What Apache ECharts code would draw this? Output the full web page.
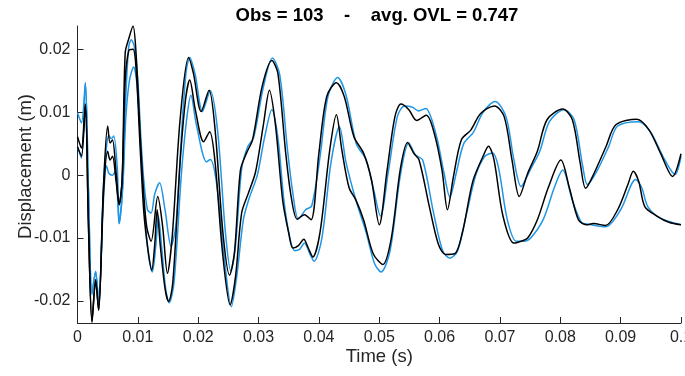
<!DOCTYPE html>
<html>
<head>
<meta charset="utf-8">
<script src="https://cdn.jsdelivr.net/npm/echarts@6/dist/echarts.min.js"></script>
<style>
html,body{margin:0;padding:0;background:#fff;}
#chart{width:685px;height:376px;}
</style>
</head>
<body>
<div id="chart"></div>
<script>
// Time ticks and displacement ticks
var xTicks = [0, 0.01, 0.02, 0.03, 0.04, 0.05, 0.06, 0.07, 0.08, 0.09, 0.1];
var yTicks = [-0.02, -0.01, 0, 0.01, 0.02];

// Upper envelope, black [time (s), displacement (m)]
var upperBlack = [
[0,0.0061],[0.00065,0.0043],[0.0013,0.0113],[0.0018,-0.0071],[0.0024,-0.0232],[0.003,-0.0166],[0.0035,-0.0214],
[0.0043,-0.0018],[0.005,0.0078],[0.0054,0.0051],[0.0058,0.0056],[0.0064,0.0003],[0.0069,-0.0047],[0.0074,-0.0007],
[0.0079,0.0194],[0.0085,0.0217],[0.0092,0.0237],[0.0097,0.0194],[0.0104,0.0061],[0.011,-0.0034],[0.0115,-0.0084],
[0.0122,-0.0105],[0.0133,-0.0034],[0.0141,-0.0081],[0.0149,-0.0156],[0.0157,-0.0097],[0.017,0.0088],[0.0184,0.0187],
[0.0192,0.0162],[0.0205,0.0101],[0.0218,0.0135],[0.0228,0.0072],[0.0241,-0.0092],[0.0252,-0.0159],[0.026,-0.0124],
[0.027,0.0008],[0.028,0.0035],[0.029,0.0056],[0.0306,0.0141],[0.0322,0.0182],[0.0332,0.0162],[0.0345,0.0035],
[0.0354,-0.0034],[0.0364,-0.007],[0.0376,-0.0063],[0.0387,-0.0071],[0.04,0.0035],[0.0413,0.0125],[0.0429,0.0147],
[0.0442,0.0125],[0.0458,0.0061],[0.0474,0.0035],[0.0487,-0.0007],[0.05,-0.0079],[0.0513,0.0008],[0.0526,0.0093],
[0.0536,0.0113],[0.0549,0.0104],[0.0562,0.0087],[0.0578,0.0095],[0.0591,0.0067],[0.0604,0.0008],[0.0613,-0.0055],
[0.0623,-0.0002],[0.0636,0.0056],[0.0652,0.0072],[0.0668,0.0098],[0.0691,0.011],[0.0707,0.0093],[0.072,0.0024],
[0.0732,-0.0034],[0.0746,0.0003],[0.0762,0.0038],[0.0778,0.0088],[0.0804,0.0105],[0.082,0.0088],[0.0833,0.0019],
[0.0842,-0.0021],[0.0856,0.0003],[0.0876,0.0046],[0.0892,0.008],[0.0927,0.0089],[0.0947,0.0072],[0.0966,0.0035],
[0.0986,-0.0002],[0.1,0.0034]
];

// Upper envelope, blue
var upperBlue = [
[0,0.0099],[0.00065,0.0083],[0.0013,0.0147],[0.0018,-0.002],[0.0024,-0.0187],[0.003,-0.0153],[0.0035,-0.0203],
[0.0043,-0.002],[0.0048,0.0045],[0.0052,0.0063],[0.0056,0.0058],[0.006,0.0062],[0.0066,0.001],[0.0069,-0.0077],
[0.0074,-0.003],[0.008,0.0125],[0.0085,0.0205],[0.0089,0.0215],[0.0094,0.0205],[0.01,0.015],[0.0105,0.006],
[0.011,-0.001],[0.0116,-0.0055],[0.0122,-0.006],[0.0128,-0.003],[0.0136,-0.0012],[0.0145,-0.0055],[0.0155,-0.0113],
[0.0163,-0.008],[0.0172,0.006],[0.018,0.0165],[0.0186,0.0187],[0.0195,0.016],[0.0207,0.0101],[0.022,0.0134],
[0.0232,0.0072],[0.0245,-0.009],[0.0254,-0.0152],[0.0262,-0.011],[0.0272,0.001],[0.0282,0.0045],[0.0292,0.006],
[0.0308,0.014],[0.0323,0.0186],[0.0335,0.016],[0.0348,0.004],[0.0357,-0.003],[0.0366,-0.007],[0.0378,-0.0055],
[0.0388,-0.0049],[0.0402,0.003],[0.0415,0.0125],[0.0431,0.0155],[0.0445,0.0127],[0.0462,0.005],[0.0478,0.0025],
[0.049,-0.002],[0.0502,-0.0065],[0.0515,0.0005],[0.053,0.0093],[0.0542,0.011],[0.0555,0.0108],[0.0565,0.0102],
[0.0577,0.0106],[0.0594,0.0065],[0.0607,0.0005],[0.0617,-0.0035],[0.0628,0.0005],[0.064,0.005],[0.0656,0.0068],
[0.0672,0.01],[0.0692,0.0117],[0.071,0.0093],[0.0723,0.0025],[0.0735,-0.0018],[0.075,0.0008],[0.0766,0.0038],
[0.0782,0.0085],[0.0806,0.0104],[0.0823,0.0088],[0.0837,0.0015],[0.0845,-0.0015],[0.086,0.0005],[0.088,0.0045],
[0.0895,0.0078],[0.093,0.0085],[0.095,0.0068],[0.097,0.003],[0.099,0.0001],[0.1,0.003]
];

// Lower envelope, black
var lowerBlack = [
[0,0.0045],[0.00065,0.003],[0.0013,0.011],[0.0018,-0.0075],[0.0024,-0.0234],[0.003,-0.0168],[0.0035,-0.0215],
[0.0043,-0.003],[0.005,0.0038],[0.0054,0.0024],[0.0058,0.003],[0.0064,-0.001],[0.0069,-0.0047],[0.0074,-0.0007],
[0.0079,0.015],[0.0085,0.0198],[0.0092,0.02],[0.0097,0.017],[0.0104,0.004],[0.011,-0.006],[0.0117,-0.012],
[0.0123,-0.0151],[0.0128,-0.011],[0.0132,-0.0055],[0.0137,-0.011],[0.0145,-0.018],[0.0151,-0.0201],[0.0158,-0.017],
[0.017,0.002],[0.0179,0.012],[0.0186,0.0151],[0.0195,0.0105],[0.0209,0.0053],[0.0219,0.0069],[0.0228,0.002],
[0.024,-0.012],[0.0253,-0.0206],[0.0262,-0.016],[0.0272,-0.006],[0.0283,-0.0029],[0.0295,0.0005],[0.0308,0.008],
[0.0318,0.0135],[0.0328,0.008],[0.034,-0.004],[0.035,-0.0092],[0.0357,-0.0116],[0.0366,-0.0112],[0.0375,-0.0102],
[0.0382,-0.0115],[0.039,-0.013],[0.0402,-0.009],[0.0418,0.004],[0.0429,0.0096],[0.0438,0.004],[0.045,-0.002],
[0.0461,-0.0039],[0.0474,-0.0071],[0.049,-0.0125],[0.0506,-0.0142],[0.052,-0.01],[0.0535,0.001],[0.0547,0.0052],
[0.0557,0.0035],[0.0566,0.0024],[0.0583,-0.005],[0.0598,-0.011],[0.061,-0.0126],[0.0625,-0.0125],[0.0638,-0.009],
[0.0655,-0.001],[0.0672,0.003],[0.0681,0.0046],[0.069,0.0025],[0.0705,-0.0065],[0.0723,-0.0108],[0.0735,-0.0105],
[0.0746,-0.01],[0.0762,-0.0071],[0.078,-0.002],[0.0801,0.0024],[0.0815,-0.002],[0.083,-0.0071],[0.0843,-0.0079],
[0.0855,-0.0077],[0.0875,-0.008],[0.0895,-0.0055],[0.0912,-0.0015],[0.0921,0.0006],[0.093,-0.001],[0.094,-0.005],
[0.096,-0.0065],[0.098,-0.0075],[0.1,-0.0079]
];

// Lower envelope, blue
var lowerBlue = [
[0,0.0045],[0.00065,0.0027],[0.0013,0.0147],[0.0018,-0.002],[0.0024,-0.019],[0.003,-0.0153],[0.0035,-0.0203],
[0.0043,-0.004],[0.0048,0.0015],[0.0052,0.0003],[0.0058,0.0],[0.0062,0.0005],[0.0066,-0.003],[0.0069,-0.0077],
[0.0075,-0.002],[0.008,0.009],[0.0086,0.015],[0.0093,0.0172],[0.0099,0.014],[0.0105,0.004],[0.0112,-0.007],
[0.0118,-0.013],[0.0124,-0.0154],[0.013,-0.011],[0.0134,-0.0065],[0.0139,-0.011],[0.0146,-0.018],[0.0152,-0.0203],
[0.016,-0.017],[0.0172,0.0],[0.0181,0.009],[0.0188,0.0127],[0.0197,0.008],[0.0214,0.0021],[0.022,0.0025],
[0.023,-0.001],[0.0242,-0.012],[0.0255,-0.0209],[0.0264,-0.016],[0.0275,-0.007],[0.0285,-0.0035],[0.0298,0.0],
[0.031,0.006],[0.0322,0.0104],[0.0332,0.006],[0.0342,-0.004],[0.0352,-0.01],[0.036,-0.012],[0.0368,-0.0118],
[0.0376,-0.0108],[0.0385,-0.0125],[0.0392,-0.0137],[0.0405,-0.01],[0.042,0.002],[0.0434,0.0077],[0.0445,0.002],
[0.0462,-0.0042],[0.0478,-0.009],[0.0492,-0.014],[0.0503,-0.0154],[0.0518,-0.012],[0.0535,0.0],[0.0549,0.0051],
[0.056,0.0032],[0.0572,0.0024],[0.059,-0.006],[0.0605,-0.012],[0.0617,-0.0132],[0.063,-0.012],[0.0645,-0.006],
[0.066,0.0],[0.0675,0.003],[0.0688,0.0035],[0.0698,0.001],[0.0712,-0.007],[0.0727,-0.0105],[0.074,-0.0105],
[0.0751,-0.01],[0.0772,-0.007],[0.079,-0.002],[0.0804,0.0008],[0.082,-0.004],[0.0835,-0.0075],[0.0847,-0.0078],
[0.0875,-0.0082],[0.09,-0.0055],[0.0925,-0.0007],[0.0935,-0.002],[0.0945,-0.005],[0.0965,-0.0068],[0.1,-0.0079]
];

var titleText = 'Obs = 103    -    avg. OVL = 0.747';
var xName = 'Time (s)';
var yName = 'Displacement (m)';

var BLUE = '#1f96e6';
var BLACK = '#000000';
var AX = '#262626';
var FONT = 'Liberation Sans, Arial, Helvetica, sans-serif';

var chart = echarts.init(document.getElementById('chart'), null, {renderer: 'canvas'});

function mk(data, color, z) {
  return {
    type: 'line', data: data, showSymbol: false, symbol: 'none',
    smooth: 0.3, z: z, clip: true,
    lineStyle: {color: color, width: 1.5},
    emphasis: {disabled: true}, silent: true
  };
}

chart.setOption({
  animation: false,
  backgroundColor: '#ffffff',
  title: {
    text: titleText, left: 372, top: 1, textAlign: 'center',
    textStyle: {fontFamily: FONT, fontSize: 18.5, fontWeight: 'bold', color: '#000'}
  },
  grid: {left: 77.5, right: 4, top: 26, bottom: 53, containLabel: false, outerBoundsMode: 'none'},
  xAxis: {
    type: 'value', min: 0, max: 0.1, interval: 0.01,
    name: xName, nameLocation: 'middle', nameGap: 24, nameMoveOverlap: false,
    nameTextStyle: {fontFamily: FONT, fontSize: 18.5, color: AX},
    axisLine: {show: true, onZero: false, lineStyle: {color: AX, width: 1}},
    axisTick: {show: true, inside: true, length: 6, lineStyle: {color: AX}},
    axisLabel: {
      fontFamily: FONT, fontSize: 16, color: AX, margin: 7, hideOverlap: false,
      customValues: xTicks,
      formatter: function (v) { return String(+v.toFixed(2)); }
    },
    splitLine: {show: false}
  },
  yAxis: {
    type: 'value', min: -0.0235, max: 0.0237,
    name: yName, nameLocation: 'middle', nameGap: 42, nameMoveOverlap: false,
    nameTextStyle: {fontFamily: FONT, fontSize: 18.5, color: AX, padding: [0, 0, 0, 16]},
    axisLine: {show: true, onZero: false, lineStyle: {color: AX, width: 1}},
    axisTick: {show: true, inside: true, length: 6, customValues: yTicks, lineStyle: {color: AX}},
    axisLabel: {
      fontFamily: FONT, fontSize: 16, color: AX, margin: 7,
      customValues: yTicks,
      formatter: function (v) { return String(+v.toFixed(2)); }
    },
    splitLine: {show: false}
  },
  series: [
    mk(lowerBlue, BLUE, 1),
    mk(upperBlue, BLUE, 2),
    mk(lowerBlack, BLACK, 3),
    mk(upperBlack, BLACK, 4)
  ]
});
</script>
</body>
</html>
